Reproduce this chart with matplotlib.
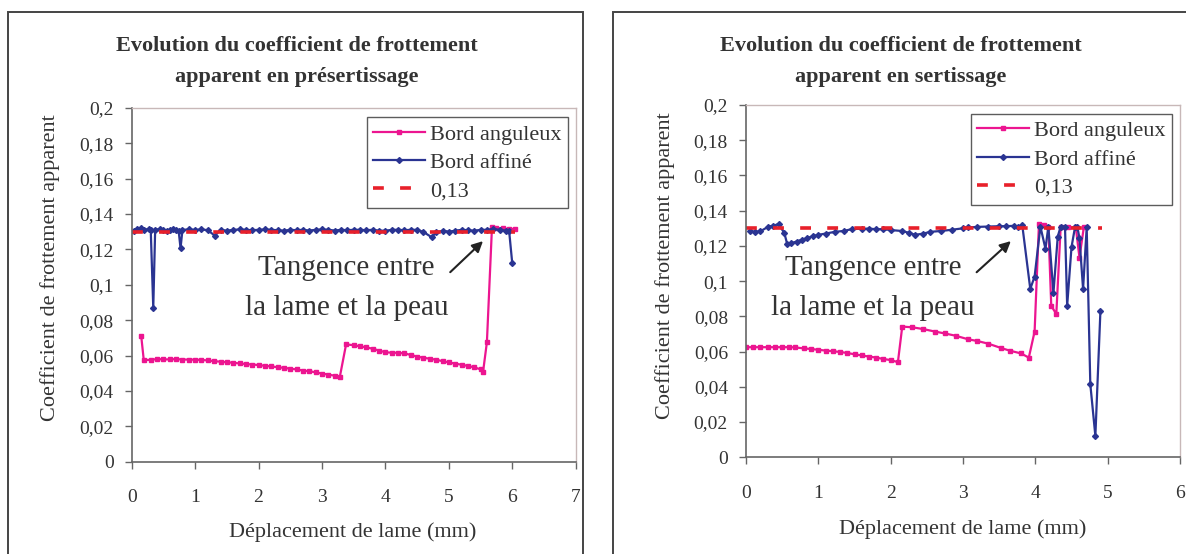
import matplotlib
matplotlib.use("Agg")
import matplotlib.pyplot as plt
from matplotlib.patches import Rectangle
from matplotlib.ticker import FuncFormatter

plt.rcParams["font.family"] = ["Liberation Serif", "DejaVu Serif"]

# --- data ---
# left chart: présertissage
pre_ang_x = [0.15, 0.19, 0.3, 0.4, 0.5, 0.6, 0.7, 0.8, 0.9, 1.0, 1.1, 1.2, 1.3, 1.4,
             1.5, 1.6, 1.7, 1.8, 1.9, 2.0, 2.1, 2.2, 2.3, 2.4, 2.5, 2.6, 2.7, 2.8,
             2.9, 3.0, 3.1, 3.2, 3.28, 3.38, 3.5, 3.6, 3.7, 3.8, 3.9, 4.0, 4.1, 4.2,
             4.3, 4.4, 4.5, 4.6, 4.7, 4.8, 4.9, 5.0, 5.1, 5.2, 5.3, 5.4, 5.5, 5.54,
             5.6, 5.68, 5.75, 5.85, 5.95, 6.05]
pre_ang_y = [0.071, 0.0575, 0.0575, 0.058, 0.0578, 0.0578, 0.058, 0.0577, 0.0577,
             0.0576, 0.0575, 0.0572, 0.0568, 0.0565, 0.0562, 0.0559, 0.0555,
             0.0552, 0.0549, 0.0546, 0.0542, 0.0538, 0.0534, 0.053, 0.0526,
             0.0521, 0.0515, 0.0511, 0.0505, 0.0498, 0.0492, 0.0486, 0.0477,
             0.0663, 0.0658, 0.0652, 0.0646, 0.0638, 0.0628, 0.0618, 0.0616,
             0.0615, 0.0612, 0.0603, 0.0594, 0.0587, 0.0582, 0.0576, 0.0568,
             0.0561, 0.0554, 0.0548, 0.0541, 0.0533, 0.0522, 0.0509, 0.0675,
             0.1325, 0.132, 0.1318, 0.1315, 0.1315]

pre_aff_x = [0.03, 0.08, 0.15, 0.2, 0.27, 0.3, 0.34, 0.37, 0.45, 0.5, 0.55, 0.6,
             0.65, 0.7, 0.74, 0.77, 0.8, 0.9, 1.0, 1.1, 1.2, 1.31, 1.4, 1.5, 1.6,
             1.7, 1.8, 1.9, 2.0, 2.1, 2.2, 2.3, 2.4, 2.5, 2.6, 2.7, 2.8, 2.9, 3.0,
             3.1, 3.2, 3.3, 3.4, 3.5, 3.6, 3.7, 3.8, 3.9, 4.0, 4.1, 4.2, 4.3, 4.4,
             4.5, 4.6, 4.73, 4.8, 4.9, 5.0, 5.1, 5.2, 5.3, 5.4, 5.5, 5.6, 5.7,
             5.8, 5.9, 5.95, 6.0]
pre_aff_y = [0.1305, 0.1315, 0.132, 0.131, 0.1315, 0.131, 0.087, 0.131, 0.1315,
             0.131, 0.1305, 0.131, 0.1312, 0.131, 0.1305, 0.1206, 0.131, 0.1312,
             0.131, 0.1312, 0.1308, 0.1277, 0.131, 0.1305, 0.131, 0.1312, 0.131,
             0.1308, 0.131, 0.1312, 0.131, 0.1308, 0.1305, 0.131, 0.1308, 0.131,
             0.1306, 0.131, 0.1312, 0.131, 0.1306, 0.131, 0.1308, 0.131, 0.131,
             0.1308, 0.131, 0.1305, 0.1305, 0.131, 0.131, 0.1308, 0.131, 0.131,
             0.1298, 0.1268, 0.1295, 0.1305, 0.13, 0.1305, 0.131, 0.1308, 0.1305,
             0.131, 0.131, 0.1315, 0.131, 0.1305, 0.1305, 0.112]

pre_ref_x = [0.0, 6.05]
pre_ref_y = [0.13, 0.13]

# right chart: sertissage
ser_ang_x = [0.0, 0.1, 0.2, 0.3, 0.4, 0.5, 0.6, 0.68, 0.8, 0.9, 1.0, 1.1, 1.2,
             1.3, 1.4, 1.5, 1.6, 1.7, 1.8, 1.9, 2.0, 2.1, 2.16, 2.3, 2.45, 2.61,
             2.75, 2.9, 3.07, 3.2, 3.35, 3.53, 3.65, 3.8, 3.91, 3.99, 4.05, 4.12,
             4.18, 4.22, 4.29, 4.35, 4.45, 4.56, 4.61, 4.67]
ser_ang_y = [0.0625, 0.0625, 0.0625, 0.0625, 0.0625, 0.0625, 0.0625, 0.0624,
             0.0618, 0.0615, 0.061, 0.0606, 0.0602, 0.0598, 0.0592, 0.0585,
             0.0578, 0.0572, 0.0566, 0.0558, 0.0552, 0.054, 0.0742, 0.0738,
             0.0728, 0.0714, 0.0703, 0.069, 0.067, 0.066, 0.0645, 0.062, 0.0605,
             0.059, 0.0566, 0.0714, 0.1325, 0.132, 0.131, 0.086, 0.0813, 0.1305,
             0.1305, 0.1305, 0.1134, 0.1305]

ser_aff_x = [0.05, 0.12, 0.2, 0.31, 0.38, 0.45, 0.53, 0.57, 0.62, 0.7, 0.77,
             0.85, 0.92, 1.0, 1.1, 1.23, 1.35, 1.46, 1.6, 1.7, 1.8, 1.9, 2.0,
             2.15, 2.25, 2.34, 2.45, 2.55, 2.7, 2.85, 3.0, 3.07, 3.2, 3.35, 3.5,
             3.6, 3.7, 3.76, 3.82, 3.93, 3.99, 4.07, 4.14, 4.18, 4.25, 4.31,
             4.35, 4.41, 4.44, 4.5, 4.55, 4.58, 4.61, 4.66, 4.71, 4.76, 4.83, 4.9]
ser_aff_y = [0.1282, 0.128, 0.1283, 0.131, 0.1315, 0.1324, 0.1273, 0.121,
             0.1215, 0.1225, 0.1235, 0.1245, 0.1255, 0.1263, 0.127, 0.128,
             0.1285, 0.1295, 0.1298, 0.1298, 0.1295, 0.1295, 0.129, 0.1285,
             0.1275, 0.1263, 0.127, 0.128, 0.1285, 0.1292, 0.13, 0.1305, 0.1308,
             0.131, 0.1312, 0.1312, 0.1314, 0.131, 0.1316, 0.0956, 0.1026, 0.131,
             0.1184, 0.131, 0.0932, 0.1253, 0.131, 0.131, 0.086, 0.1193, 0.131,
             0.131, 0.1244, 0.0956, 0.1305, 0.0415, 0.0121, 0.0833]

ser_ref_x = [0.0, 4.92]
ser_ref_y = [0.13, 0.13]

y_ticks = [0, 0.02, 0.04, 0.06, 0.08, 0.1, 0.12, 0.14, 0.16, 0.18, 0.2]

PINK = "#ec1590"
BLUE = "#2a3492"
RED = "#e8202a"
TXT = "#333333"


def comma(v, pos=None):
    return ("%g" % round(v, 2)).replace(".", ",")


def setup(ax, xmax):
    ax.set_xlim(0, xmax)
    ax.set_ylim(0, 0.2)
    ax.set_xticks(range(0, xmax + 1))
    ax.set_yticks(y_ticks)
    ax.yaxis.set_major_formatter(FuncFormatter(comma))
    for s in ("left", "bottom"):
        ax.spines[s].set_color("#666666")
        ax.spines[s].set_linewidth(1.2)
    for s in ("top", "right"):
        ax.spines[s].set_color("#c8b8b8")
        ax.spines[s].set_linewidth(1.0)
    ax.tick_params(axis="both", direction="out", length=5, width=1,
                   color="#666666", labelsize=14, labelcolor=TXT)
    ax.tick_params(axis="x", pad=15)
    ax.tick_params(axis="y", pad=8)


def draw(ax, ang, aff, ref):
    ax.plot(*ang, color=PINK, lw=1.6, marker="s", ms=2.8, label="Bord anguleux")
    ax.plot(*aff, color=BLUE, lw=1.6, marker="D", ms=3, label="Bord affiné")
    ax.plot(*ref, color=RED, lw=2.6, dashes=(3, 4.5), label="0,13")


fig = plt.figure(figsize=(11.86, 5.54), dpi=100)

# outer chart frames
fig.patches.append(Rectangle((8 / 1186, -0.1), 575 / 1186, 1.1 - 12 / 554,
                             transform=fig.transFigure, fill=False,
                             edgecolor="#444444", lw=1.4))
fig.patches.append(Rectangle((612.5 / 1186, -0.1), 0.6, 1.1 - 12 / 554,
                             transform=fig.transFigure, fill=False,
                             edgecolor="#444444", lw=1.4))

ax1 = fig.add_axes([131.7 / 1186, 1 - 461.7 / 554, 444 / 1186, 354 / 554])
ax2 = fig.add_axes([746 / 1186, 1 - 457.3 / 554, 434 / 1186, 352.3 / 554])

setup(ax1, 7)
setup(ax2, 6)
draw(ax1, (pre_ang_x, pre_ang_y), (pre_aff_x, pre_aff_y), (pre_ref_x, pre_ref_y))
draw(ax2, (ser_ang_x, ser_ang_y), (ser_aff_x, ser_aff_y), (ser_ref_x, ser_ref_y))

for ax, anchor in ((ax1, (0.9833, 0.9729)), (ax2, (0.9823, 0.9745))):
    leg = ax.legend(loc="upper right", bbox_to_anchor=anchor, borderaxespad=0,
                    fontsize=16, frameon=True, fancybox=False,
                    handlelength=2.3, handletextpad=0.25, labelspacing=0.35,
                    borderpad=0.3, edgecolor="#333333")
    leg.get_frame().set_linewidth(1.0)
    for t in leg.get_texts():
        t.set_color(TXT)

# annotations
for ax, tx, ty, a0, a1 in ((ax1, 3.39, 0.1093, (4.99, 0.106), (5.57, 0.1257)),
                           (ax2, 1.757, 0.1073, (3.16, 0.104), (3.69, 0.1238))):
    ax.text(tx, ty, "Tangence entre", fontsize=21, color=TXT,
            ha="center", va="center")
    ax.text(tx, ty - 0.0227, "la lame et la peau", fontsize=21, color=TXT,
            ha="center", va="center")
    ax.annotate("", xy=a1, xytext=a0,
                arrowprops=dict(arrowstyle="-|>", color="#222222", lw=1.5,
                                mutation_scale=16))

# titles and axis labels
for cx, l2 in ((297 / 1186, "apparent en présertissage"),
               (901 / 1186, "apparent en sertissage")):
    fig.text(cx, 1 - 46 / 554, "Evolution du coefficient de frottement",
             fontsize=16, fontweight="bold", color=TXT, ha="center", va="center")
    fig.text(cx, 1 - 77 / 554, l2,
             fontsize=16, fontweight="bold", color=TXT, ha="center", va="center")

fig.text(50 / 1186, 1 - 268 / 554, "Coefficient de frottement apparent",
         rotation=90, fontsize=16, color=TXT, ha="center", va="center")
fig.text(665 / 1186, 1 - 266 / 554, "Coefficient de frottement apparent",
         rotation=90, fontsize=16, color=TXT, ha="center", va="center")
fig.text(353 / 1186, 1 - 532 / 554, "Déplacement de lame (mm)",
         fontsize=16, color=TXT, ha="center", va="center")
fig.text(963 / 1186, 1 - 529 / 554, "Déplacement de lame (mm)",
         fontsize=16, color=TXT, ha="center", va="center")

fig.savefig("out.png", dpi=100)
